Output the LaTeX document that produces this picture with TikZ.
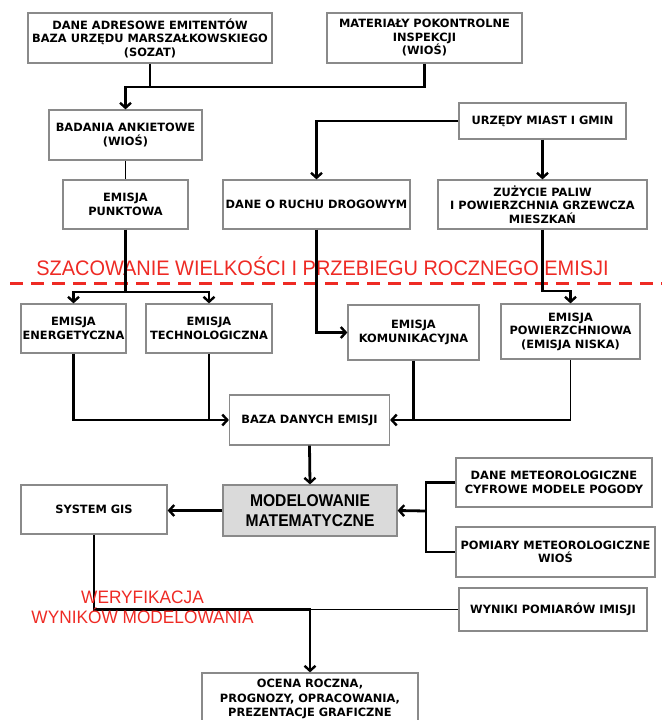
\documentclass[tikz,border=0pt]{standalone}
\usepackage{fontspec}
\usepackage{graphicx}
\setmainfont{DejaVu Sans}
\newfontfamily\arialf{Liberation Sans}
\usetikzlibrary{arrows.meta,calc}
\definecolor{redtxt}{HTML}{EE2A24}
\definecolor{boxgray}{HTML}{8A8A8A}
\definecolor{modfill}{HTML}{DADADA}
\tikzset{
  box/.style={draw=boxgray, line width=1.2pt, fill=white, align=center, inner sep=1pt,
    font=\bfseries\fontsize{11.4}{13.5}\selectfont},
  thk/.style={line width=2.8pt, draw=black},
  thn/.style={line width=1.6pt, draw=black},
  arr/.style={-{Straight Barb[length=5pt,width=11pt,line width=2.4pt]}},
  redlabel/.style={text=redtxt, align=center, inner sep=0pt}
}
\begin{document}
\begin{tikzpicture}[x=1pt,y=-1pt]
\useasboundingbox (0,0) rectangle (662,720);
% red label and dashed line
\node[redlabel, font=\arialf\fontsize{21}{24}\selectfont] (t1) at (322.5,266) {\scalebox{0.95}[1]{SZACOWANIE WIELKOŚCI I PRZEBIEGU ROCZNEGO EMISJI}};
\coordinate (dl) at (10,283);
\coordinate (dr) at (662,283);
\draw[redtxt, line width=3pt, dash pattern=on 13pt off 8pt] (dl) -- (dr);
% boxes
\node[box, minimum width=244pt, minimum height=50pt] (b1) at (150,38) {DANE ADRESOWE EMITENTÓW\\BAZA URZĘDU MARSZAŁKOWSKIEGO\\(SOZAT)};
\node[box, minimum width=195pt, minimum height=50pt] (b2) at (424.5,38) {MATERIAŁY POKONTROLNE\\INSPEKCJI\\(WIOŚ)};
\node[box, minimum width=153pt, minimum height=50pt] (b3) at (125.5,135) {BADANIA ANKIETOWE\\(WIOŚ)};
\node[box, minimum width=167pt, minimum height=36pt] (b4) at (542.5,121) {URZĘDY MIAST I GMIN};
\node[box, minimum width=125pt, minimum height=49pt] (b5) at (125.5,204.5) {EMISJA\\PUNKTOWA};
\node[box, minimum width=187pt, minimum height=49pt] (b6) at (316.5,204.5) {DANE O RUCHU DROGOWYM};
\node[box, minimum width=209pt, minimum height=49pt] (b7) at (542.5,204.5) {ZUŻYCIE PALIW\\I POWIERZCHNIA GRZEWCZA\\MIESZKAŃ};
\node[box, minimum width=105pt, minimum height=49pt] (b8) at (73.5,328.5) {EMISJA\\ENERGETYCZNA};
\node[box, minimum width=126pt, minimum height=49pt] (b9) at (209,328.5) {EMISJA\\TECHNOLOGICZNA};
\node[box, minimum width=131pt, minimum height=55pt] (b10) at (413.5,332.5) {EMISJA\\KOMUNIKACYJNA};
\node[box, minimum width=139pt, minimum height=55pt] (b11) at (570.5,331.5) {EMISJA\\POWIERZCHNIOWA\\(EMISJA NISKA)};
\node[box, minimum width=160pt, minimum height=50pt] (b12) at (309.5,420) {BAZA DANYCH EMISJI};
\node[box, fill=modfill, minimum width=174pt, minimum height=51pt, font=\arialf\bfseries\fontsize{17}{19.5}\selectfont] (b13) at (310,510.5) {\scalebox{0.92}[1]{MODELOWANIE}\\\scalebox{0.92}[1]{MATEMATYCZNE}};
\node[box, minimum width=146pt, minimum height=49pt] (b14) at (94,509.5) {SYSTEM GIS};
\node[box, minimum width=196pt, minimum height=49pt] (b15) at (554,482.5) {DANE METEOROLOGICZNE\\CYFROWE MODELE POGODY};
\node[box, minimum width=199pt, minimum height=50pt] (b16) at (555.5,552) {POMIARY METEOROLOGICZNE\\WIOŚ};
\node[box, minimum width=188pt, minimum height=43pt] (b17) at (553,609.5) {WYNIKI POMIARÓW IMISJI};
\node[box, minimum width=216pt, minimum height=52pt, font=\bfseries\fontsize{11.4}{14.5}\selectfont] (b18) at (310,699) {OCENA ROCZNA,\\PROGNOZY, OPRACOWANIA,\\PREZENTACJE GRAFICZNE};
% junction coordinates
\coordinate (j1) at (125.5,87);
\coordinate (j2) at (125.5,292);
\coordinate (j3) at (542.5,291);
\coordinate (j4) at (426,511);
\coordinate (j5) at (94,609.5);
\coordinate (j6) at (310,609.5);
% connectors
\draw[thn] (b1.south) -- (b1.south |- j1);
\draw[thk, arr] (b2.south) |- (j1) -- (b3.north);
\draw[thn] (b3.south) -- (b5.north);
\draw[thk, arr] (b4.west) -| (b6.north);
\draw[thk, arr] (b4.south) -- (b7.north);
\draw[thk] (b5.south) -- (j2);
\draw[thk, arr] (j2) -| (b8.north);
\draw[thk, arr] (j2) -| (b9.north);
\draw[thk, arr] (b6.south) |- (b10.west);
\draw[thk, arr] (b7.south) -- (j3) -| (b11.north);
\draw[thk, arr] (b8.south) |- (b12.west);
\draw[thn] (b9.south) -- (b9.south |- b12.west);
\draw[thk, arr] (b10.south) |- (b12.east);
\draw[thn] (b11.south) |- (b10.south |- b12.east);
\draw[thk, arr] (b12.south) -- (b13.north);
\draw[thk, arr] (b13.west) -- (b14.east |- b13.west);
\draw[thk] (b15.west) -| (j4) |- (b16.west);
\draw[thk, arr] (j4) -- (b13.east);
\draw[thk, arr] (b14.south) -- (j5) -- (j6) -- (b18.north);
\draw[thn] (b17.west) -- (j6);
% second red label
\node[redlabel, font=\arialf\fontsize{18}{20}\selectfont] (t2) at (142.5,607) {\scalebox{0.96}[1]{WERYFIKACJA}\\\scalebox{0.96}[1]{WYNIKÓW MODELOWANIA}};
\end{tikzpicture}
\end{document}
